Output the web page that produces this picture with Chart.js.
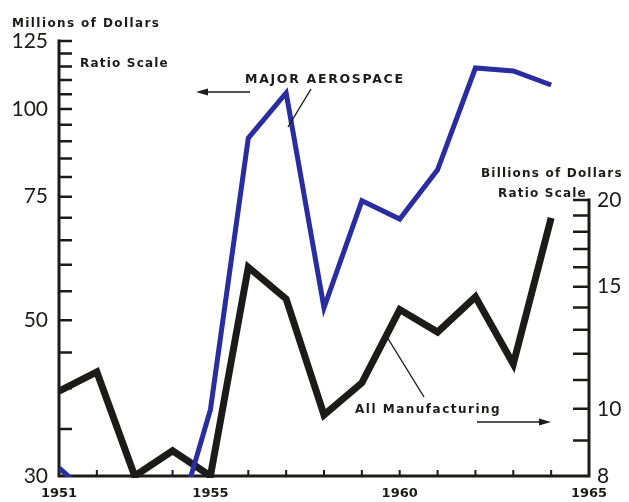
<!DOCTYPE html>
<html>
<head>
<meta charset="utf-8">
<script src="https://cdn.jsdelivr.net/npm/chart.js@4.4.1/dist/chart.umd.min.js"></script>
<style>
    html, body { margin: 0; padding: 0; background: #fff; }
    #wrap { width: 629px; height: 502px; }
</style>
</head>
<body>
<div id="wrap"><canvas id="lineChart" width="629" height="502"></canvas></div>
<script>
// values
var years = [1951, 1952, 1953, 1954, 1955, 1956, 1957, 1958, 1959, 1960, 1961, 1962, 1963, 1964];
var aerospace = [30.8, 27.6, 26.0, 24.4, 37.3, 90.9, 105.4, 52.1, 74.0, 69.7, 81.9, 114.4, 113.3, 108.2];      // millions
var manufacturing = [10.6, 11.3, 8.0, 8.7, 8.0, 16.0, 14.4, 9.8, 10.9, 13.9, 12.9, 14.5, 11.6, 18.85];          // billions

var yearLabels = [1951, 1955, 1960, 1965];
var yearTicks = [1952, 1953, 1954, 1955, 1956, 1957, 1958, 1959, 1960, 1961, 1962, 1963, 1964];
var millionLabels = [30, 50, 75, 100, 125];
var millionTicks = [35, 40, 45, 50, 55, 60, 65, 70, 75, 80, 85, 90, 95, 100, 105, 110, 115, 120, 125];
var billionLabels = [8, 10, 15, 20];
var billionTicks = [9, 10, 11, 12, 13, 14, 15, 16, 17, 18, 19, 20];

var blue = '#2a2d9f';
var ink = '#1d1b19';

function points(values) {
    var out = [];
    for (var i in years) {
        out.push({ x: years[i], y: values[i] });
    }
    return out;
}

function arrow(ctx, x1, y, x2) {
    var dir = x2 > x1 ? 1 : -1;
    ctx.beginPath();
    ctx.moveTo(x1, y);
    ctx.lineTo(x2 - dir * 8, y);
    ctx.stroke();
    ctx.beginPath();
    ctx.moveTo(x2, y);
    ctx.lineTo(x2 - dir * 12, y - 3.5);
    ctx.lineTo(x2 - dir * 12, y + 3.5);
    ctx.closePath();
    ctx.fill();
}

// axis lines and inward tick marks
var axisPlugin = {
    id: 'axisPlugin',
    beforeDatasetsDraw: function (chart) {
        var ctx = chart.ctx;
        var a = chart.chartArea;
        var xs = chart.scales.x, yl = chart.scales.yLeft, yr = chart.scales.yRight;
        ctx.save();
        ctx.strokeStyle = ink;
        ctx.lineCap = 'square';
        ctx.lineWidth = 3;
        ctx.beginPath();
        ctx.moveTo(a.left, a.top);
        ctx.lineTo(a.left, a.bottom);
        ctx.lineTo(a.right, a.bottom);
        ctx.lineTo(a.right, yr.getPixelForValue(20));
        ctx.stroke();

        ctx.lineWidth = 2.5;
        ctx.lineCap = 'butt';
        ctx.beginPath();
        millionTicks.forEach(function (v) {
            var py = yl.getPixelForValue(v);
            ctx.moveTo(a.left, py);
            ctx.lineTo(a.left + 13, py);
        });
        billionTicks.forEach(function (v) {
            var py = yr.getPixelForValue(v);
            ctx.moveTo(a.right, py);
            ctx.lineTo(a.right - 16, py);
        });
        ctx.stroke();

        ctx.lineWidth = 2;
        ctx.beginPath();
        yearTicks.forEach(function (v) {
            var px = xs.getPixelForValue(v);
            ctx.moveTo(px, a.bottom);
            ctx.lineTo(px, a.bottom - 6);
        });
        ctx.stroke();
        ctx.restore();
    },
    afterDraw: function (chart) {
        var ctx = chart.ctx;
        ctx.save();
        ctx.fillStyle = ink;
        ctx.strokeStyle = ink;
        ctx.textBaseline = 'alphabetic';
        ctx.textAlign = 'left';
        ctx.font = 'bold 12px "DejaVu Sans"';
        ctx.letterSpacing = '1.4px';
        ctx.fillText('Millions of Dollars', 12, 27);
        ctx.letterSpacing = '1.2px';
        ctx.fillText('Billions of Dollars', 481, 177);
        ctx.fillText('Ratio Scale', 80, 67);
        ctx.fillText('Ratio Scale', 498, 197);
        ctx.letterSpacing = '1.5px';
        ctx.fillText('All Manufacturing', 355, 413);
        ctx.font = 'bold 12.5px "DejaVu Sans"';
        ctx.letterSpacing = '1.7px';
        ctx.fillText('MAJOR AEROSPACE', 245, 83);

        ctx.lineWidth = 1.6;
        arrow(ctx, 250, 92, 196);
        arrow(ctx, 477, 422, 551);
        ctx.lineWidth = 1.4;
        ctx.beginPath();
        ctx.moveTo(311, 89);
        ctx.lineTo(288, 127);
        ctx.moveTo(424, 397);
        ctx.lineTo(387, 337);
        ctx.stroke();
        ctx.restore();
    }
};

var ctx = document.getElementById('lineChart');
var mainChart = new Chart(ctx, {
    type: 'line',
    data: {
        datasets: [
            {
                label: 'Major Aerospace',
                data: points(aerospace),
                yAxisID: 'yLeft',
                borderColor: blue,
                borderWidth: 5,
                pointRadius: 0,
                tension: 0,
                borderJoinStyle: 'miter',
                clip: { left: 0, right: 0, top: 5, bottom: 1 }
            },
            {
                label: 'All Manufacturing',
                data: points(manufacturing),
                yAxisID: 'yRight',
                borderColor: ink,
                borderWidth: 7,
                pointRadius: 0,
                tension: 0,
                borderJoinStyle: 'miter',
                clip: { left: 0, right: 0, top: 5, bottom: 2 }
            }
        ]
    },
    options: {
        responsive: false,
        animation: false,
        devicePixelRatio: 1,
        layout: { padding: { top: 41, left: 0, right: 0, bottom: 0 } },
        plugins: { legend: { display: false }, tooltip: { enabled: false } },
        scales: {
            x: {
                type: 'linear',
                min: 1951,
                max: 1965,
                afterBuildTicks: function (scale) {
                    scale.ticks = yearLabels.map(function (v) { return { value: v }; });
                },
                afterFit: function (scale) { scale.height = 26; },
                grid: { display: false, drawTicks: false },
                border: { display: false },
                ticks: {
                    padding: 10,
                    color: ink,
                    maxRotation: 0,
                    autoSkip: false,
                    font: { family: 'DejaVu Sans', size: 13, weight: 'bold' },
                    callback: function (v) { return String(v); }
                }
            },
            yLeft: {
                type: 'logarithmic',
                position: 'left',
                min: 30,
                max: 125,
                afterBuildTicks: function (scale) {
                    scale.ticks = millionLabels.map(function (v) { return { value: v }; });
                },
                afterFit: function (scale) { scale.width = 59; },
                grid: { display: false, drawTicks: false },
                border: { display: false },
                ticks: {
                    padding: 11,
                    color: ink,
                    font: { family: 'Lato', size: 21 },
                    callback: function (v) { return String(v); }
                }
            },
            yRight: {
                type: 'logarithmic',
                position: 'right',
                min: 8,
                max: 33.9,
                afterBuildTicks: function (scale) {
                    scale.ticks = billionLabels.map(function (v) { return { value: v }; });
                },
                afterFit: function (scale) { scale.width = 40; },
                grid: { display: false, drawTicks: false },
                border: { display: false },
                ticks: {
                    padding: 8,
                    color: ink,
                    font: { family: 'Lato', size: 21 },
                    callback: function (v) { return String(v); }
                }
            }
        }
    },
    plugins: [axisPlugin]
});
</script>
</body>
</html>
